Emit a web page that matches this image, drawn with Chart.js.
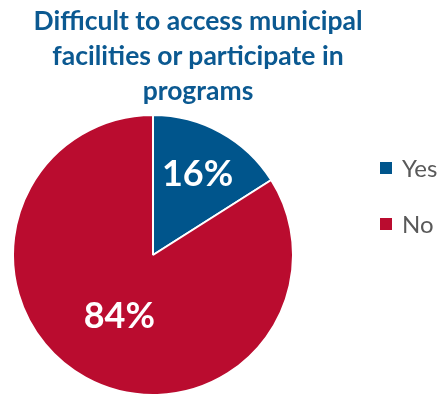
<!DOCTYPE html>
<html>
<head>
<meta charset="utf-8">
<script src="https://cdn.jsdelivr.net/npm/chart.js@4"></script>
<style>
  body { margin: 0; background: #fff; }
  #wrap { position: relative; width: 448px; height: 397px; overflow: hidden; }
  #chart { position: absolute; left: 0; top: 0; }
  #title {
    position: absolute; left: 0; top: 3px; width: 396px;
    text-align: center; color: #0B5991;
    font: bold 26.5px/35px Lato, "Open Sans", sans-serif;
  }
  #legend { position: absolute; left: 380px; top: 154px; }
  .item { height: 56px; display: flex; align-items: flex-start; }
  .box { width: 12px; height: 12px; margin-top: 8px; margin-right: 10px; }
  .lbl { font: 24px/27px Lato, "Open Sans", sans-serif; color: #595959; }
</style>
</head>
<body>
<div id="wrap">
  <canvas id="chart" width="448" height="397"></canvas>
  <div id="title">Difficult to access municipal<br>facilities or participate in<br>programs</div>
  <div id="legend"></div>
</div>
<script>
var categories = ['Yes', 'No'];
var values = [16, 84];
var colors = ['#00558C', '#BA0C2F'];

// legend in html, built from the same arrays
var legend = document.getElementById('legend');
for (var i = 0; i < categories.length; i++) {
    var row = document.createElement('div');
    row.className = 'item';
    row.innerHTML = '<span class="box" style="background:' + colors[i] + '"></span><span class="lbl">' + categories[i] + '</span>';
    legend.appendChild(row);
}

// percent labels inside slices (no datalabels plugin available)
var labelRadius = [0.66, 0.5];
var sliceLabels = {
    id: 'sliceLabels',
    afterDatasetsDraw: function (chart) {
        var ctx = chart.ctx;
        var meta = chart.getDatasetMeta(0);
        ctx.save();
        ctx.fillStyle = '#fff';
        ctx.font = 'bold 36px Lato, "Open Sans", sans-serif';
        ctx.textAlign = 'center';
        ctx.textBaseline = 'middle';
        meta.data.forEach(function (arc, i) {
            var mid = (arc.startAngle + arc.endAngle) / 2;
            var d = arc.outerRadius * labelRadius[i];
            ctx.fillText(values[i] + '%', arc.x + Math.cos(mid) * d, arc.y + Math.sin(mid) * d);
        });
        ctx.restore();
    }
};

new Chart(document.getElementById('chart'), {
    type: 'pie',
    data: {
        labels: categories,
        datasets: [{
            data: values,
            backgroundColor: colors,
            borderColor: '#fff',
            borderWidth: 2
        }]
    },
    options: {
        responsive: false,
        animation: false,
        layout: { padding: { left: 12, right: 154, top: 114, bottom: 1 } },
        plugins: {
            legend: { display: false },
            title: { display: false },
            tooltip: { enabled: false }
        }
    },
    plugins: [sliceLabels]
});
</script>
</body>
</html>
